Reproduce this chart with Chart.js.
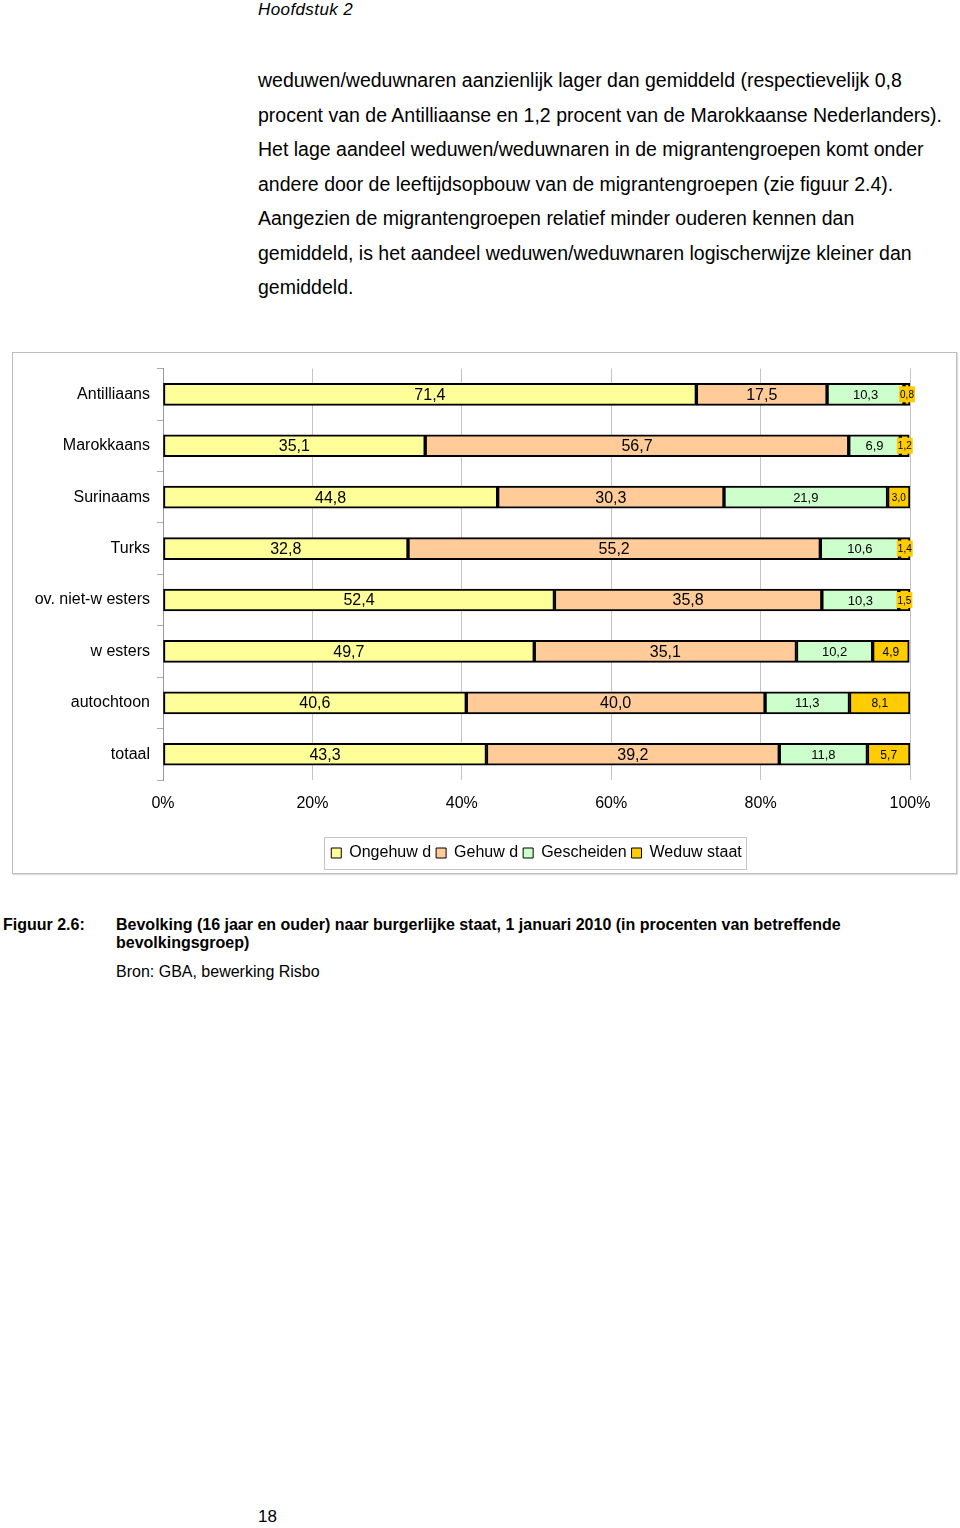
<!DOCTYPE html>
<html>
<head>
<meta charset="utf-8">
<script src="https://cdn.jsdelivr.net/npm/chart.js@4"></script>
<style>
  body { margin: 0; width: 960px; height: 1528px; background: #fff; position: relative; font-family: 'Liberation Sans', Arial, sans-serif; color: #000; }
  .abs { position: absolute; white-space: nowrap; }
  #header { left: 258px; top: 0px; font-size: 17px; font-style: italic; letter-spacing: 0.4px; }
  #para { left: 258px; top: 63px; font-size: 19.5px; line-height: 34.5px; }
  #frame { left: 12px; top: 352px; width: 945px; height: 522px; box-sizing: border-box; border: 1px solid #bdbdbd; box-shadow: 1px 1px 1px #ddd; }
  #chartWrap { left: 12px; top: 352px; width: 945px; height: 522px; }
  #chart { display: block; }
  #capLabel { left: 3px; top: 916px; font-size: 16px; font-weight: bold; }
  #capText { left: 116px; top: 916px; font-size: 16px; font-weight: bold; line-height: 18px; }
  #source { left: 116px; top: 963px; font-size: 16px; }
  #pageNo { left: 258px; top: 1507px; font-size: 17px; }
</style>
</head>
<body>
<div class="abs" id="header">Hoofdstuk 2</div>
<div class="abs" id="para">
weduwen/weduwnaren aanzienlijk lager dan gemiddeld (respectievelijk 0,8<br>
procent van de Antilliaanse en 1,2 procent van de Marokkaanse Nederlanders).<br>
Het lage aandeel weduwen/weduwnaren in de migrantengroepen komt onder<br>
andere door de leeftijdsopbouw van de migrantengroepen (zie figuur 2.4).<br>
Aangezien de migrantengroepen relatief minder ouderen kennen dan<br>
gemiddeld, is het aandeel weduwen/weduwnaren logischerwijze kleiner dan<br>
gemiddeld.
</div>
<div class="abs" id="frame"></div>
<div class="abs" id="chartWrap"><canvas id="chart" width="945" height="522"></canvas></div>
<div class="abs" id="capLabel">Figuur 2.6:</div>
<div class="abs" id="capText">Bevolking (16 jaar en ouder) naar burgerlijke staat, 1 januari 2010 (in procenten van betreffende<br>bevolkingsgroep)</div>
<div class="abs" id="source">Bron: GBA, bewerking Risbo</div>
<div class="abs" id="pageNo">18</div>

<script>
// Data
const groups = ['Antilliaans', 'Marokkaans', 'Surinaams', 'Turks', 'ov. niet-w esters', 'w esters', 'autochtoon', 'totaal'];
const seriesNames = ['Ongehuw d', 'Gehuw d', 'Gescheiden', 'Weduw staat'];
const ongehuwd   = [71.4, 35.1, 44.8, 32.8, 52.4, 49.7, 40.6, 43.3];
const gehuwd     = [17.5, 56.7, 30.3, 55.2, 35.8, 35.1, 40.0, 39.2];
const gescheiden = [10.3, 6.9, 21.9, 10.6, 10.3, 10.2, 11.3, 11.8];
const weduwstaat = [0.8, 1.2, 3.0, 1.4, 1.5, 4.9, 8.1, 5.7];
const xTicks = [0, 20, 40, 60, 80, 100];

const seriesColors = ['#FFFF99', '#FFCC99', '#CCFFCC', '#FFCC00'];
const FONT = "'Liberation Sans', Arial, sans-serif";

Chart.defaults.font.family = FONT;
Chart.defaults.color = '#000';

// Value labels inside the bar segments
const valueLabels = {
    id: 'valueLabels',
    afterDatasetsDraw(chart) {
        const ctx = chart.ctx;
        ctx.save();
        ctx.textAlign = 'center';
        ctx.textBaseline = 'middle';
        chart.data.datasets.forEach((ds, di) => {
            const meta = chart.getDatasetMeta(di);
            meta.data.forEach((bar, i) => {
                const v = ds.data[i];
                const txt = v.toFixed(1).replace('.', ',');
                let font = '16px ' + FONT;
                if (di === 2) font = '13px ' + FONT;
                if (di === 3) font = v < 4 ? '10px ' + FONT : '12px ' + FONT;
                ctx.font = font;
                const cx = (bar.x + bar.base) / 2;
                const w = ctx.measureText(txt).width;
                // tiny segments: label sits on its own coloured box, like the original
                if (w + 4 > Math.abs(bar.x - bar.base)) {
                    ctx.fillStyle = ds.backgroundColor;
                    ctx.fillRect(cx - w / 2 - 1, bar.y - 8, w + 2, 16);
                }
                ctx.fillStyle = '#000';
                ctx.fillText(txt, cx, bar.y + 1);
            });
        });
        ctx.restore();
    }
};

// Grey frame round the legend
const legendFrame = {
    id: 'legendFrame',
    afterDraw(chart) {
        const boxes = chart.legend.legendHitBoxes;
        if (!boxes || !boxes.length) return;
        const left = Math.min(...boxes.map(b => b.left)) - 7;
        const right = Math.max(...boxes.map(b => b.left + b.width)) + 5;
        const top = Math.min(...boxes.map(b => b.top)) - 8;
        const bottom = Math.max(...boxes.map(b => b.top + b.height)) + 8;
        const ctx = chart.ctx;
        ctx.save();
        ctx.strokeStyle = '#c4c4c4';
        ctx.lineWidth = 1;
        ctx.strokeRect(Math.round(left) + 0.5, Math.round(top) + 0.5, Math.round(right - left), Math.round(bottom - top));
        ctx.restore();
    }
};

const seriesData = [ongehuwd, gehuwd, gescheiden, weduwstaat];

new Chart(document.getElementById('chart').getContext('2d'), {
    type: 'bar',
    data: {
        labels: groups,
        datasets: seriesData.map((d, i) => ({
            label: seriesNames[i],
            data: d,
            backgroundColor: seriesColors[i],
            borderColor: '#000',
            borderWidth: 2,
            borderSkipped: false,
            barThickness: 22
        }))
    },
    options: {
        indexAxis: 'y',
        responsive: false,
        animation: false,
        layout: { padding: { top: 8, right: 47, left: 0, bottom: 3 } },
        scales: {
            x: {
                stacked: true,
                min: 0,
                max: 100,
                afterBuildTicks: scale => { scale.ticks = xTicks.map(v => ({ value: v })); },
                afterFit: scale => { scale.height = 60; },
                ticks: {
                    padding: 14,
                    font: { size: 16 },
                    color: '#000',
                    callback: v => v + '%'
                },
                grid: { color: '#c4c4c4', lineWidth: 1, drawTicks: false },
                border: { display: false }
            },
            y: {
                stacked: true,
                afterFit: scale => { scale.width = 151; },
                ticks: { padding: 7, font: { size: 16 }, color: '#000' },
                grid: { drawOnChartArea: false, drawTicks: true, tickLength: 6, color: '#aaa' },
                border: { display: true, color: '#999', width: 1 }
            }
        },
        plugins: {
            legend: {
                position: 'bottom',
                fullSize: false,
                labels: {
                    boxWidth: 10,
                    boxHeight: 10,
                    padding: 5,
                    font: { size: 16 },
                    color: '#000',
                    generateLabels: chart => Chart.defaults.plugins.legend.labels.generateLabels(chart)
                        .map(l => Object.assign(l, { lineWidth: 1, strokeStyle: '#000' }))
                }
            },
            tooltip: { enabled: false }
        }
    },
    plugins: [valueLabels, legendFrame]
});
</script>
</body>
</html>
